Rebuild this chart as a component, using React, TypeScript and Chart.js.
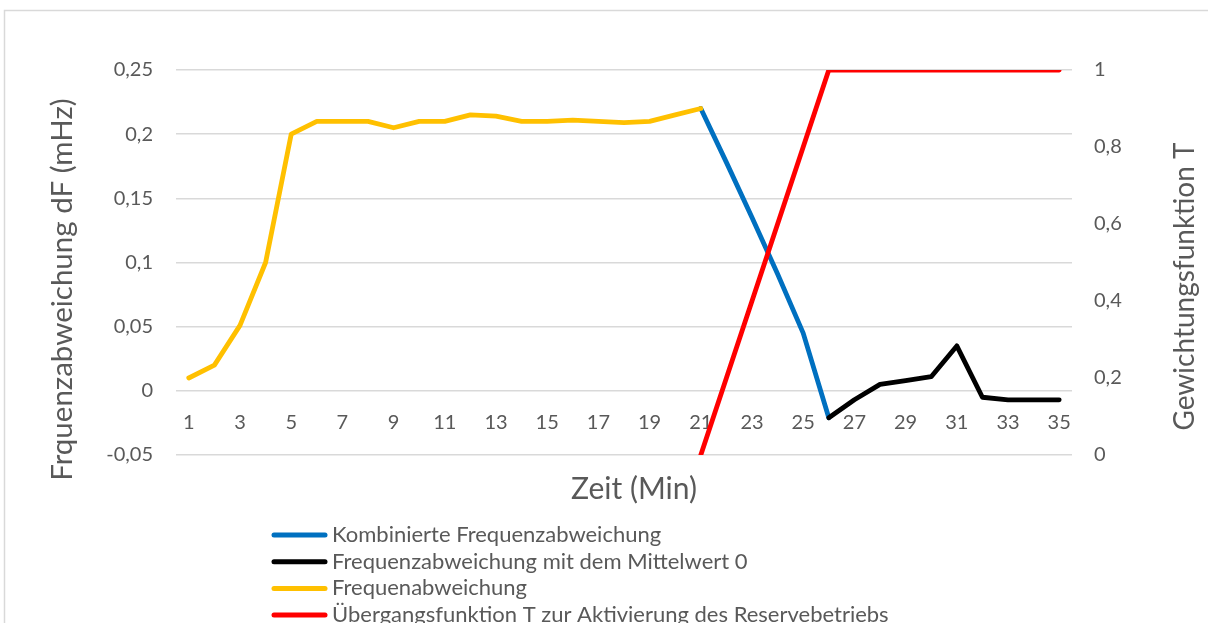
import React, { useEffect, useRef } from 'react';
import { Chart, registerables } from 'chart.js';

Chart.register(...registerables);

const categories = ['1', '2', '3', '4', '5', '6', '7', '8', '9', '10', '11', '12', '13', '14', '15', '16', '17', '18', '19', '20', '21', '22', '23', '24', '25', '26', '27', '28', '29', '30', '31', '32', '33', '34', '35'];

const kombinierteFrequenzabweichung = [null, null, null, null, null, null, null, null, null, null, null, null, null, null, null, null, null, null, null, null, 0.22, 0.178, 0.135, 0.091, 0.045, -0.021, null, null, null, null, null, null, null, null, null];

const frequenzabweichungMittelwert0 = [null, null, null, null, null, null, null, null, null, null, null, null, null, null, null, null, null, null, null, null, null, null, null, null, null, -0.021, -0.007, 0.005, 0.008, 0.011, 0.035, -0.005, -0.007, -0.007, -0.007];

const frequenabweichung = [0.01, 0.02, 0.051, 0.1, 0.2, 0.21, 0.21, 0.21, 0.205, 0.21, 0.21, 0.215, 0.214, 0.21, 0.21, 0.211, 0.21, 0.209, 0.21, 0.215, 0.22, null, null, null, null, null, null, null, null, null, null, null, null, null, null];

const uebergangsfunktionT = [null, null, null, null, null, null, null, null, null, null, null, null, null, null, null, null, null, null, null, null, 0, 0.2, 0.4, 0.6, 0.8, 1, 1, 1, 1, 1, 1, 1, 1, 1, 1];

const leftTickLabels = ['-0,05', '0', '0,05', '0,1', '0,15', '0,2', '0,25'];
const rightTickLabels = ['0', '0,2', '0,4', '0,6', '0,8', '1'];

const seriesNames = [
  'Kombinierte Frequenzabweichung',
  'Frequenzabweichung mit dem Mittelwert 0',
  'Frequenabweichung',
  'Übergangsfunktion T zur Aktivierung des Reservebetriebs',
];
const seriesColors = ['#0070C0', '#000000', '#FFC000', '#FF0000'];

const X_TITLE = 'Zeit (Min)';
const Y_TITLE = 'Frquenzabweichung dF (mHz)';
const Y1_TITLE = 'Gewichtungsfunktion T';

const FONT = 'Lato, "Open Sans", sans-serif';
const TEXT = '#595959';
const GRID = '#d9d9d9';

const decorPlugin = {
  id: 'decor',
  beforeDraw(chart: any) {
    const { ctx } = chart;
    ctx.save();
    ctx.strokeStyle = GRID;
    ctx.lineWidth = 1.5;
    ctx.strokeRect(4.5, 10.5, 1400, 900);
    ctx.restore();
  },
  afterDraw(chart: any) {
    const { ctx, chartArea: ca } = chart;
    ctx.save();
    ctx.fillStyle = TEXT;
    ctx.textAlign = 'center';
    ctx.textBaseline = 'middle';
    ctx.font = `30px ${FONT}`;
    ctx.fillText(X_TITLE, (ca.left + ca.right) / 2 + 10, ca.bottom + 34);

    ctx.save();
    ctx.font = `29.5px ${FONT}`;
    ctx.translate(ca.left - 114, (ca.top + ca.bottom) / 2 + 27);
    ctx.rotate(-Math.PI / 2);
    ctx.fillText(Y_TITLE, 0, 0);
    ctx.restore();

    ctx.save();
    ctx.font = `28px ${FONT}`;
    ctx.translate(ca.right + 113, (ca.top + ca.bottom) / 2 + 24);
    ctx.rotate(-Math.PI / 2);
    ctx.fillText(Y1_TITLE, 0, 0);
    ctx.restore();

    // legend
    ctx.textAlign = 'left';
    ctx.font = `22px ${FONT}`;
    ctx.lineCap = 'round';
    ctx.lineWidth = 5;
    chart.data.datasets.forEach((ds: any, i: number) => {
      const y = ca.bottom + 80 + i * 26.7;
      ctx.strokeStyle = ds.borderColor;
      ctx.beginPath();
      ctx.moveTo(ca.left + 98, y);
      ctx.lineTo(ca.left + 149, y);
      ctx.stroke();
      ctx.fillStyle = TEXT;
      ctx.fillText(ds.label, ca.left + 156, y);
    });
    ctx.restore();
  },
};

export default function App() {
  const canvasRef = useRef<HTMLCanvasElement | null>(null);

  useEffect(() => {
    if (!canvasRef.current) return;
    const seriesData = [kombinierteFrequenzabweichung, frequenzabweichungMittelwert0, frequenabweichung, uebergangsfunktionT];
    const chart = new Chart(canvasRef.current, {
      type: 'line',
      data: {
        labels: categories,
        datasets: seriesData.map((d, i) => ({
          label: seriesNames[i],
          data: d,
          borderColor: seriesColors[i],
          backgroundColor: seriesColors[i],
          borderWidth: 4.8,
          pointRadius: 0,
          pointHoverRadius: 0,
          tension: 0,
          fill: false,
          spanGaps: false,
          borderCapStyle: 'round',
          borderJoinStyle: 'round',
          yAxisID: i === 3 ? 'y1' : 'y',
          order: 4 - i,
        })),
      },
      options: {
        animation: false,
        responsive: true,
        maintainAspectRatio: false,
        layout: { padding: { top: 70, left: 76, right: 36, bottom: 168 } },
        plugins: {
          legend: { display: false },
          tooltip: { enabled: false },
        },
        scales: {
          x: {
            type: 'category',
            position: { y: 0 } as any,
            offset: true,
            grid: { display: false, drawTicks: false },
            border: { display: false },
            ticks: {
              autoSkip: false,
              maxRotation: 0,
              padding: 20,
              color: TEXT,
              font: { family: FONT, size: 20 },
              callback: (_v: any, i: number) => (i % 2 === 0 ? categories[i] : ''),
            },
          },
          y: {
            type: 'linear',
            position: 'left',
            min: -0.05,
            max: 0.25,
            ticks: {
              stepSize: 0.05,
              padding: 23,
              color: TEXT,
              font: { family: FONT, size: 20 },
              callback: (_v: any, i: number) => leftTickLabels[i],
            },
            grid: { color: GRID, lineWidth: 1.5, drawTicks: false },
            border: { display: false },
            afterFit: (s: any) => { s.width = 100; },
          },
          y1: {
            type: 'linear',
            position: 'right',
            min: 0,
            max: 1,
            ticks: {
              stepSize: 0.2,
              padding: 22,
              color: TEXT,
              font: { family: FONT, size: 20 },
              callback: (_v: any, i: number) => rightTickLabels[i],
            },
            grid: { display: false, drawTicks: false },
            border: { display: false },
            afterFit: (s: any) => { s.width = 100; },
          },
        },
      },
      plugins: [decorPlugin],
    });
    return () => chart.destroy();
  }, []);

  return (
    <div style={{ position: 'fixed', left: 0, top: 0, width: 1208, height: 623, overflow: 'hidden', background: '#ffffff' }}>
      <canvas ref={canvasRef} />
    </div>
  );
}
